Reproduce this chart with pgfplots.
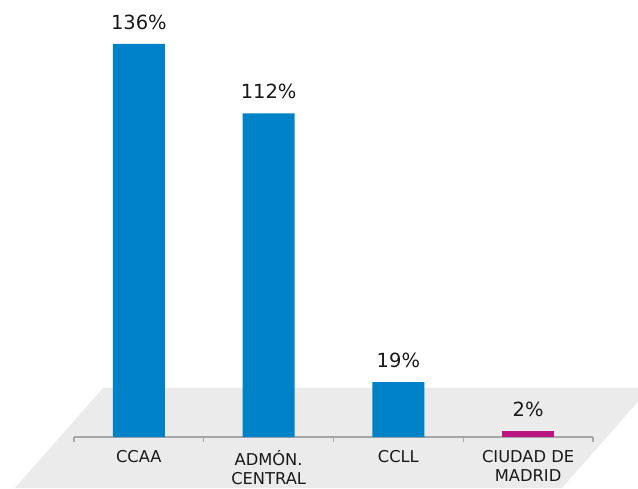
\documentclass[border=0pt]{standalone}
\usepackage{fontspec}
\setmainfont{DejaVu Sans}
\usepackage{pgfplots}
\pgfplotsset{compat=1.18}
\definecolor{barblue}{RGB}{0,130,200}
\definecolor{barmag}{RGB}{186,22,128}
\definecolor{floorgray}{RGB}{235,235,235}
\definecolor{axgray}{RGB}{166,166,166}
\begin{document}
\begin{tikzpicture}[x=1pt,y=1pt]
\path[use as bounding box] (0,0) rectangle (638,488);
\begin{scope}
\clip (0,0) rectangle (638,488);
\fill[floorgray] (103,100) -- (650,100) -- (562,0) -- (15,0) -- cycle;
\end{scope}
\begin{axis}[
  at={(74pt,51pt)}, anchor=south west,
  scale only axis, width=519pt, height=437pt,
  xmin=-0.5, xmax=3.5, ymin=0, ymax=151.2,
  axis y line=none, axis x line*=bottom,
  x axis line style={axgray, line width=1.3pt, -},
  xtick={0,1,2,3},
  xticklabels={CCAA, {ADMÓN.\\CENTRAL}, CCLL, {CIUDAD DE\\MADRID}},
  major x tick style={draw=none},
  minor xtick={-0.5,0.5,1.5,2.5,3.5},
  minor tick length=5pt,
  minor x tick style={axgray, line width=1.3pt},
  tick align=outside,
  xticklabel style={align=center, font=\fontsize{16.3}{18.5}\selectfont, text=black!90, yshift=-6pt},
  ybar, bar width=52pt, bar shift=0pt,
  nodes near coords={\pgfmathprintnumber{\pgfplotspointmeta}\%},
  nodes near coords style={font=\fontsize{19.5}{22}\selectfont, text=black!90, yshift=11pt},
  /pgf/number format/assume math mode=true,
  clip=false,
]
\addplot[fill=barblue, draw=none] coordinates {(0,136) (1,112) (2,19)};
\addplot[fill=barmag, draw=none] coordinates {(3,2)};
\end{axis}
\end{tikzpicture}
\end{document}
